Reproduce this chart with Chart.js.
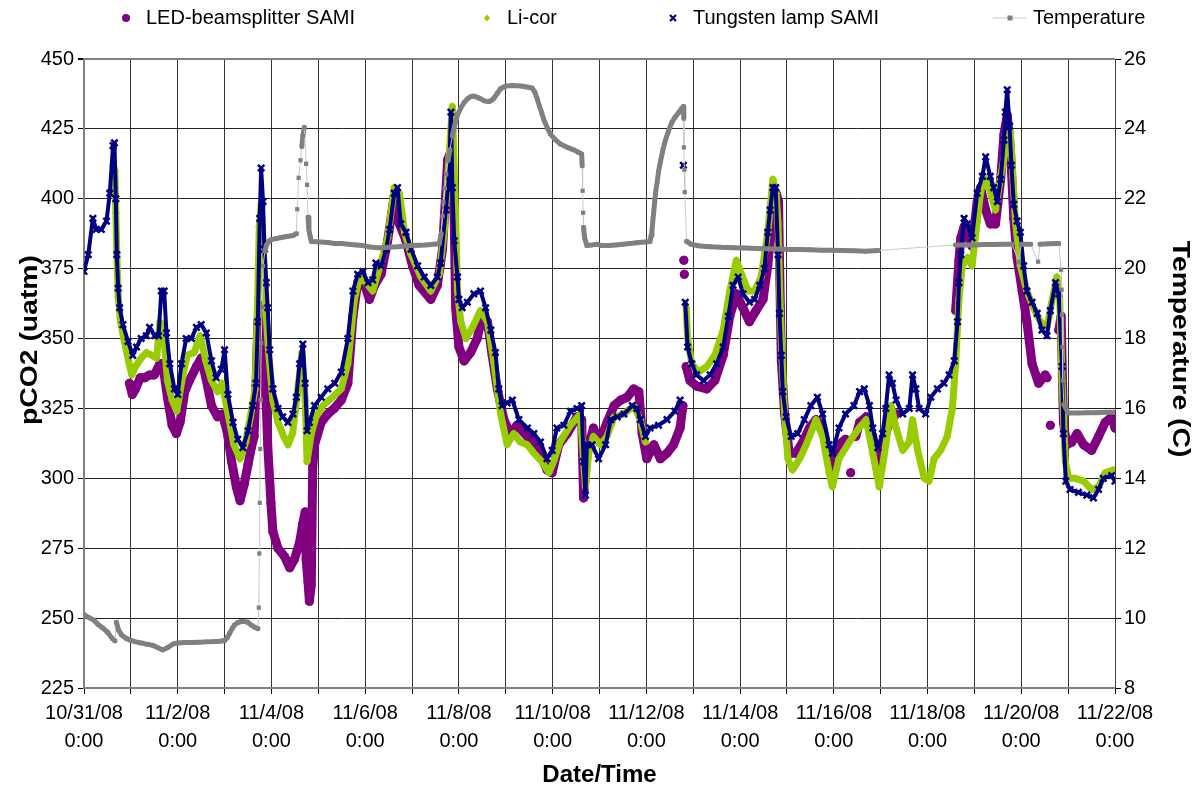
<!DOCTYPE html>
<html>
<head>
<meta charset="utf-8">
<title>pCO2 and temperature</title>
<script src="https://cdn.jsdelivr.net/npm/chart.js@4/dist/chart.umd.min.js"></script>
<style>
  body { margin: 0; background: #fff; }
  canvas { display: block; }
</style>
</head>
<body>
<canvas id="pco2Chart" width="1198" height="790"></canvas>
<script>
// days since 10/31/08 0:00
const tickDates = ["10/31/08", "11/2/08", "11/4/08", "11/6/08", "11/8/08", "11/10/08",
    "11/12/08", "11/14/08", "11/16/08", "11/18/08", "11/20/08", "11/22/08"];

const seriesNames = ["LED-beamsplitter SAMI", "Li-cor", "Tungsten lamp SAMI", "Temperature"];
const axisTitles = ["pCO2 (uatm)", "Temperature (C)", "Date/Time"];

const ledDay = [0.97, 1.03, 1.10, 1.20, 1.30, 1.40, 1.50, 1.62, 1.68, 1.78, 1.88, 1.97, 2.05, 2.15, 2.25, 2.40, 2.50, 2.60, 2.72, 2.85,
    2.95, 3.05, 3.15, 3.25, 3.33, 3.42, 3.50, 3.57, 3.63, 3.67, 3.71, 3.75, 3.82, 3.89, 3.92, 3.96, 3.99, 4.03, 4.14, 4.28,
    4.39, 4.49, 4.60, 4.67, 4.72, 4.74, 4.78, 4.81, 4.85, 4.88, 4.92, 5.06, 5.20, 5.34, 5.49, 5.63, 5.74, 5.84, 5.99, 6.09,
    6.20, 6.34, 6.48, 6.62, 6.73, 6.87, 7.01, 7.15, 7.40, 7.54, 7.65, 7.76, 7.83, 7.90, 7.93, 8.00, 8.11, 8.25, 8.39, 8.50,
    8.61, 8.71, 8.82, 8.96, 9.10, 9.24, 9.46, 9.67, 9.88, 9.99, 10.13, 10.31, 10.52, 10.62, 10.66, 10.73, 10.87, 11.00, 11.16, 11.31,
    11.45, 11.59, 11.73, 11.84, 11.91, 12.01, 12.16, 12.30, 12.44, 12.58, 12.72, 12.78, 12.79, 12.80, 12.80, 12.81, 12.82, 12.85, 12.93, 13.07,
    13.29, 13.46, 13.64, 13.78, 13.92, 14.06, 14.20, 14.34, 14.49, 14.59, 14.70, 14.77, 14.82, 14.84, 14.88, 14.95, 15.05, 15.19, 15.34, 15.48,
    15.62, 15.76, 15.90, 15.97, 16.11, 16.25, 16.30, 16.36, 16.40, 16.47, 16.55, 16.69, 16.83, 16.94, 17.04, 17.18, 17.33, 17.50, 18.60, 18.67,
    18.71, 18.78, 18.85, 18.95, 19.06, 19.13, 19.24, 19.34, 19.45, 19.56, 19.63, 19.70, 19.77, 19.84, 19.91, 20.02, 20.12, 20.23, 20.37, 20.51,
    20.55, 20.58, 20.62, 20.66, 20.80, 20.85, 20.90, 20.97, 21.08, 21.19, 21.33, 21.50, 21.65, 21.79, 21.93, 22.00];
const ledPco2 = [334, 330, 332, 336, 336, 337, 337, 341, 341, 329, 319, 316, 320, 331, 335, 340, 343, 336, 326, 322,
    323, 317, 306, 297, 292, 298, 305, 311, 315, 333, 356, 362, 340, 326, 312, 300, 291, 281, 275, 272,
    268, 271, 277, 284, 288, 271, 263, 256, 262, 304, 312, 320, 323, 325, 328, 334, 358, 370, 369, 364,
    369, 373, 385, 401, 391, 385, 376, 369, 364, 369, 382, 414, 417, 393, 361, 347, 342, 345, 350, 358,
    356, 344, 332, 321, 316, 319, 315, 312, 303, 302, 312, 316, 322, 321, 293, 309, 318, 313, 320, 326,
    328, 329, 332, 331, 316, 307, 312, 307, 309, 312, 318, 326, null, 378, null, 373, null, 340, 335, 333,
    332, 335, 344, 358, 366, 361, 356, 360, 364, 376, 396, 402, 399, 379, 342, 323, 309, 309, 313, 318,
    321, 318, 307, 303, 312, 314, null, 302, null, 315, 320, 322, 315, 302, 312, 320, 323, null, 360, 378,
    386, 390, 387, 383, 399, 404, 396, 391, 391, 407, 423, 430, 417, 393, 379, 367, 356, 341, 334, 337,
    336, null, 319, null, 353, 358, 320, 312, 313, 316, 312, 310, 315, 320, 322, 318];

const licorDay = [0.62, 0.66, 0.68, 0.70, 0.73, 0.78, 0.85, 0.95, 1.02, 1.10, 1.22, 1.33, 1.45, 1.55, 1.62, 1.70, 1.78, 1.88, 1.98, 2.10,
    2.20, 2.35, 2.48, 2.60, 2.72, 2.85, 2.95, 3.05, 3.20, 3.33, 3.45, 3.55, 3.65, 3.70, 3.74, 3.78, 3.82, 3.88, 3.94, 4.03,
    4.14, 4.26, 4.35, 4.45, 4.55, 4.65, 4.72, 4.76, 4.85, 4.95, 5.10, 5.30, 5.49, 5.63, 5.77, 5.88, 6.02, 6.16, 6.30, 6.48,
    6.62, 6.73, 6.84, 6.98, 7.19, 7.40, 7.58, 7.69, 7.79, 7.86, 7.93, 7.97, 8.04, 8.15, 8.29, 8.46, 8.61, 8.75, 8.89, 9.03,
    9.17, 9.31, 9.46, 9.60, 9.77, 9.92, 10.02, 10.16, 10.38, 10.59, 10.70, 10.77, 10.87, 11.02, 11.16, 11.31, 11.52, 11.73, 11.87, 11.98,
    12.40, 12.85, 12.88, 12.97, 13.11, 13.29, 13.46, 13.64, 13.78, 13.92, 14.03, 14.17, 14.31, 14.45, 14.59, 14.70, 14.77, 14.81, 14.84, 14.88,
    14.95, 15.02, 15.12, 15.27, 15.41, 15.62, 15.76, 15.90, 15.97, 16.11, 16.33, 16.54, 16.69, 16.83, 16.97, 17.11, 17.22, 17.33, 17.47, 17.61,
    17.68, 17.79, 17.93, 18.03, 18.14, 18.28, 18.42, 18.53, 18.60, 18.67, 18.74, 18.85, 18.95, 19.06, 19.13, 19.20, 19.31, 19.45, 19.56, 19.66,
    19.77, 19.82, 19.88, 19.98, 20.12, 20.26, 20.41, 20.55, 20.65, 20.76, 20.82, 20.87, 20.94, 21.01, 21.15, 21.33, 21.50, 21.65, 21.79, 21.96];
const licorPco2 = [412, 410, 395, 380, 365, 356, 350, 342, 337, 340, 343, 345, 344, 343, 356, 352, 335, 328, 324, 336,
    344, 345, 351, 342, 335, 331, 334, 325, 312, 307, 313, 322, 332, 360, 390, 398, 385, 360, 345, 328,
    320, 315, 312, 316, 330, 345, 328, 306, 316, 322, 326, 329, 332, 341, 364, 372, 370, 367, 375, 386,
    404, 402, 388, 380, 372, 367, 373, 389, 415, 433, 393, 367, 356, 350, 354, 360, 356, 341, 323, 312,
    316, 313, 312, 309, 306, 302, 306, 313, 319, 323, 297, 309, 315, 312, 315, 322, 323, 326, 321, 313,
    null, 361, 350, 341, 338, 340, 344, 353, 367, 378, 373, 367, 367, 372, 388, 407, 402, 391, 370, 350,
    323, 307, 303, 307, 312, 321, 315, 302, 297, 307, 313, 318, 321, 309, 297, 312, 326, 318, 310, 313,
    321, 310, 300, 299, 307, 310, 315, 325, 341, 364, 376, 379, 376, 392, 402, 408, 404, 396, 408, 417,
    424, 408, 391, 376, 367, 361, 356, 354, 363, 372, 364, 335, 306, 300, 300, 299, 296, 297, 302, 303];

const tungstenDay = [0.00, 0.09, 0.19, 0.26, 0.37, 0.48, 0.55, 0.62, 0.65, 0.68, 0.70, 0.73, 0.76, 0.83, 0.94, 1.04, 1.12, 1.22, 1.33, 1.40,
    1.51, 1.59, 1.65, 1.71, 1.76, 1.83, 1.93, 2.00, 2.08, 2.18, 2.29, 2.40, 2.50, 2.61, 2.72, 2.82, 2.93, 3.00, 3.07, 3.18,
    3.28, 3.39, 3.50, 3.60, 3.67, 3.71, 3.75, 3.78, 3.82, 3.85, 3.89, 3.92, 3.96, 4.03, 4.14, 4.24, 4.35, 4.46, 4.53, 4.60,
    4.67, 4.72, 4.76, 4.81, 4.92, 5.06, 5.20, 5.35, 5.49, 5.63, 5.74, 5.84, 5.95, 6.06, 6.16, 6.23, 6.34, 6.45, 6.52, 6.62,
    6.69, 6.76, 6.87, 6.98, 7.12, 7.26, 7.40, 7.54, 7.61, 7.72, 7.79, 7.83, 7.86, 7.90, 7.97, 8.00, 8.07, 8.18, 8.32, 8.46,
    8.57, 8.68, 8.78, 8.85, 8.92, 9.03, 9.14, 9.28, 9.46, 9.60, 9.74, 9.88, 9.99, 10.09, 10.24, 10.38, 10.52, 10.62, 10.66, 10.70,
    10.73, 10.84, 10.98, 11.13, 11.24, 11.38, 11.52, 11.70, 11.80, 11.87, 11.98, 12.08, 12.26, 12.44, 12.61, 12.72, 12.76, 12.79, 12.81, 12.83,
    12.88, 12.97, 13.07, 13.22, 13.36, 13.50, 13.64, 13.75, 13.85, 13.96, 14.06, 14.20, 14.31, 14.42, 14.52, 14.59, 14.64, 14.70, 14.76, 14.81,
    14.84, 14.88, 14.91, 14.98, 15.09, 15.23, 15.37, 15.51, 15.65, 15.76, 15.90, 15.97, 16.11, 16.25, 16.43, 16.55, 16.65, 16.76, 16.83, 16.94,
    17.04, 17.11, 17.18, 17.25, 17.33, 17.47, 17.61, 17.68, 17.75, 17.82, 17.96, 18.07, 18.21, 18.35, 18.46, 18.57, 18.64, 18.67, 18.71, 18.78,
    18.85, 18.95, 19.06, 19.17, 19.24, 19.34, 19.41, 19.49, 19.56, 19.63, 19.66, 19.70, 19.75, 19.79, 19.84, 19.91, 19.98, 20.05, 20.12, 20.23,
    20.34, 20.44, 20.55, 20.62, 20.73, 20.80, 20.87, 20.90, 20.95, 21.04, 21.22, 21.40, 21.54, 21.65, 21.75, 21.93, 22.00];
const tungstenPco2 = [374, 380, 393, 389, 389, 392, 402, 419, 420, 400, 380, 368, 361, 355, 349, 344, 347, 350, 351, 354,
    351, 351, 367, 367, 352, 341, 332, 330, 341, 350, 350, 354, 355, 352, 342, 336, 339, 346, 330, 320,
    314, 311, 317, 326, 334, 356, 393, 411, 399, 382, 370, 361, 346, 332, 325, 322, 320, 323, 329, 341,
    348, 334, 317, 320, 326, 329, 332, 334, 338, 350, 367, 373, 374, 370, 371, 377, 376, 382, 389, 402,
    404, 391, 388, 382, 376, 372, 369, 372, 377, 396, 408, 431, 404, 385, 372, 364, 361, 363, 366, 367,
    361, 353, 345, 332, 326, 327, 328, 321, 318, 316, 313, 307, 310, 318, 319, 324, 325, 326, 306, 294,
    312, 312, 307, 312, 321, 322, 323, 326, 325, 321, 315, 318, 319, 321, 324, 328, null, 412, null, 363,
    347, 341, 337, 335, 337, 341, 347, 358, 369, 372, 366, 363, 364, 369, 375, 388, 396, 404, 404, 380,
    359, 344, 331, 322, 315, 316, 321, 326, 329, 323, 312, 309, 318, 323, 326, 331, 332, 326, 318, 311,
    316, 325, 337, 334, 328, 323, 325, 337, 332, 325, 323, 329, 332, 334, 337, 342, 356, 370, 380, 393,
    391, 386, 402, 408, 415, 408, 404, 399, 407, 421, 431, 439, 426, 412, 398, 392, 388, 376, 367, 363,
    359, 353, 351, 360, 370, 366, 340, 316, 299, 296, 295, 294, 293, 296, 300, 301, 299];

const tempDay = [0.00, 0.10, 0.20, 0.30, 0.40, 0.50, 0.60, 0.66, 0.69, 0.74, 0.80, 0.90, 1.00, 1.10, 1.22, 1.35, 1.47, 1.58, 1.68, 1.79,
    1.90, 2.00, 2.15, 2.30, 2.45, 2.60, 2.79, 2.90, 3.00, 3.06, 3.11, 3.16, 3.21, 3.28, 3.35, 3.43, 3.50, 3.57, 3.64, 3.71,
    3.73, 3.74, 3.75, 3.76, 3.77, 3.78, 3.80, 3.82, 3.86, 3.89, 3.94, 3.99, 4.10, 4.21, 4.33, 4.46, 4.53, 4.55, 4.58, 4.62,
    4.65, 4.67, 4.70, 4.74, 4.76, 4.78, 4.80, 4.83, 4.85, 4.95, 5.06, 5.20, 5.35, 5.49, 5.65, 5.80, 5.95, 6.10, 6.25, 6.40,
    6.55, 6.70, 6.85, 7.00, 7.15, 7.30, 7.45, 7.58, 7.62, 7.65, 7.67, 7.70, 7.73, 7.77, 7.81, 7.86, 7.91, 7.97, 8.04, 8.11,
    8.18, 8.25, 8.32, 8.40, 8.46, 8.55, 8.64, 8.70, 8.75, 8.82, 8.89, 8.96, 9.03, 9.15, 9.31, 9.45, 9.56, 9.62, 9.67, 9.72,
    9.77, 9.81, 9.88, 9.95, 10.05, 10.16, 10.30, 10.45, 10.55, 10.62, 10.63, 10.64, 10.65, 10.66, 10.68, 10.73, 10.85, 10.94, 11.05, 11.20,
    11.35, 11.50, 11.65, 11.80, 11.95, 12.08, 12.10, 12.12, 12.14, 12.16, 12.18, 12.20, 12.23, 12.26, 12.30, 12.35, 12.40, 12.47, 12.54, 12.61,
    12.69, 12.75, 12.79, 12.80, 12.80, 12.81, 12.82, 12.86, 12.95, 13.14, 13.35, 13.60, 13.85, 14.10, 14.35, 14.56, 14.80, 15.05, 15.27, 15.50,
    15.75, 15.97, 16.20, 16.45, 16.68, 16.94, 18.60, 18.80, 19.00, 19.20, 19.40, 19.60, 19.80, 19.95, 20.00, 20.20, 20.36, 20.40, 20.60, 20.80,
    20.85, 20.86, 20.87, 20.88, 20.89, 20.91, 21.00, 21.20, 21.40, 21.60, 21.80, 22.00];
const tempC = [10.10, 10.02, 9.95, 9.82, 9.72, 9.60, 9.42, 9.35, 9.88, 9.65, 9.52, 9.42, 9.36, 9.32, 9.29, 9.25, 9.22, 9.15, 9.09, 9.16,
    9.26, 9.29, 9.30, 9.30, 9.31, 9.32, 9.33, 9.34, 9.36, 9.45, 9.57, 9.70, 9.80, 9.87, 9.90, 9.90, 9.88, 9.80, 9.74, 9.70,
    10.30, 11.85, 13.30, 14.84, 16.24, 17.87, 18.90, 20.08, 20.50, 20.66, 20.78, 20.83, 20.86, 20.89, 20.92, 20.95, 21.00, 21.70, 22.60, 23.10,
    23.50, 23.80, 24.04, 23.00, 22.40, 21.47, 21.10, 20.90, 20.78, 20.77, 20.76, 20.75, 20.72, 20.72, 20.70, 20.68, 20.66, 20.62, 20.60, 20.60,
    20.62, 20.63, 20.65, 20.66, 20.67, 20.68, 20.70, 20.71, 21.00, 21.50, 21.90, 22.30, 22.70, 23.10, 23.40, 23.80, 24.10, 24.40, 24.60, 24.75,
    24.86, 24.92, 24.94, 24.90, 24.86, 24.80, 24.78, 24.82, 24.88, 25.02, 25.15, 25.20, 25.23, 25.24, 25.23, 25.20, 25.17, 25.05, 24.86, 24.65,
    24.45, 24.27, 24.05, 23.86, 23.70, 23.57, 23.48, 23.40, 23.33, 23.28, 22.94, 22.23, 21.60, 21.18, 20.90, 20.66, 20.68, 20.70, 20.66, 20.66,
    20.68, 20.70, 20.72, 20.74, 20.76, 20.78, 20.95, 21.10, 21.40, 21.66, 21.95, 22.20, 22.48, 22.78, 23.06, 23.38, 23.65, 23.93, 24.18, 24.33,
    24.47, 24.58, 24.64, 24.30, 23.47, 22.83, 22.19, 20.78, 20.70, 20.65, 20.63, 20.61, 20.60, 20.59, 20.58, 20.57, 20.56, 20.55, 20.55, 20.54,
    20.53, 20.53, 20.52, 20.51, 20.50, 20.52, 20.68, 20.68, 20.68, 20.69, 20.69, 20.70, 20.70, 20.20, 20.70, 20.70, 20.20, 20.70, 20.71, 20.72,
    19.97, 19.40, 18.68, 17.76, 16.80, 16.11, 15.87, 15.87, 15.88, 15.88, 15.89, 15.89];

const LED_COLOR = "#800080";
const LICOR_COLOR = "#99CC00";
const TUNGSTEN_COLOR = "#000080";
const TEMP_COLOR = "#808080";
const TEMP_THIN_COLOR = "#c8c8c8";
const FONT = "'Liberation Sans', Arial, sans-serif";

const toPoints = (days, values) => days.map((d, i) => ({x: d, y: values[i]}));

// long jumps between readings are drawn thin, like the sparse markers in the original
const isJump = c => Math.hypot(c.p1.x - c.p0.x, c.p1.y - c.p0.y) > 13;

// legend along the top and the two side titles
const chartText = {
    id: "chartText",
    afterDraw(chart) {
        const ctx = chart.ctx;
        const sets = chart.data.datasets;
        const xs = [126, 487, 673, 1010];
        const y = 18;
        ctx.save();
        ctx.font = "20px " + FONT;
        ctx.textBaseline = "middle";
        sets.forEach((ds, i) => {
            const x = xs[i];
            ctx.fillStyle = ds.pointBackgroundColor;
            ctx.strokeStyle = ds.pointBorderColor;
            if (i === 0) {
                ctx.beginPath();
                ctx.arc(x, y, 4, 0, Math.PI * 2);
                ctx.fill();
            } else if (i === 1) {
                ctx.beginPath();
                ctx.moveTo(x, y - 3.5); ctx.lineTo(x + 3, y); ctx.lineTo(x, y + 3.5); ctx.lineTo(x - 3, y);
                ctx.fill();
            } else if (i === 2) {
                ctx.lineWidth = 2.2;
                ctx.beginPath();
                ctx.moveTo(x - 3, y - 3); ctx.lineTo(x + 3, y + 3);
                ctx.moveTo(x + 3, y - 3); ctx.lineTo(x - 3, y + 3);
                ctx.stroke();
            } else {
                ctx.strokeStyle = TEMP_THIN_COLOR;
                ctx.lineWidth = 1;
                ctx.beginPath();
                ctx.moveTo(x - 17, y); ctx.lineTo(x + 17, y);
                ctx.stroke();
                ctx.fillStyle = TEMP_COLOR;
                ctx.fillRect(x - 2.5, y - 2.5, 5, 5);
            }
            ctx.fillStyle = "#000";
            ctx.fillText(ds.label, x + (i === 3 ? 23 : 20), y);
        });

        // rotated titles, stretched along the text like the original
        ctx.font = "bold 24px " + FONT;
        ctx.textAlign = "center";
        ctx.fillStyle = "#000";
        ctx.save();
        ctx.translate(30, 340);
        ctx.rotate(-Math.PI / 2);
        ctx.scale(1.18, 1);
        ctx.fillText(axisTitles[0], 0, 0);
        ctx.restore();
        ctx.save();
        ctx.translate(1180, 349);
        ctx.rotate(Math.PI / 2);
        ctx.scale(1.18, 1);
        ctx.fillText(axisTitles[1], 0, 0);
        ctx.restore();
        ctx.restore();
    }
};

const inputData = {
    datasets: [
        {
            label: seriesNames[0],
            data: toPoints(ledDay, ledPco2),
            yAxisID: "y",
            order: 4,
            showLine: true,
            borderColor: LED_COLOR,
            borderWidth: 9,
            borderJoinStyle: "round",
            borderCapStyle: "round",
            pointStyle: "circle",
            pointRadius: 4.5,
            pointBackgroundColor: LED_COLOR,
            pointBorderColor: LED_COLOR,
            pointBorderWidth: 0
        },
        {
            label: seriesNames[1],
            data: toPoints(licorDay, licorPco2),
            yAxisID: "y",
            order: 3,
            showLine: true,
            borderColor: LICOR_COLOR,
            borderWidth: 7,
            borderJoinStyle: "round",
            borderCapStyle: "round",
            pointStyle: "rectRot",
            pointRadius: 4,
            pointBackgroundColor: LICOR_COLOR,
            pointBorderColor: LICOR_COLOR,
            pointBorderWidth: 0
        },
        {
            label: seriesNames[2],
            data: toPoints(tungstenDay, tungstenPco2),
            yAxisID: "y",
            order: 2,
            showLine: true,
            borderColor: TUNGSTEN_COLOR,
            borderWidth: 4,
            borderJoinStyle: "round",
            borderCapStyle: "round",
            pointStyle: "crossRot",
            pointRadius: 4.5,
            pointBackgroundColor: TUNGSTEN_COLOR,
            pointBorderColor: TUNGSTEN_COLOR,
            pointBorderWidth: 2.5
        },
        {
            label: seriesNames[3],
            data: toPoints(tempDay, tempC),
            yAxisID: "y2",
            order: 1,
            showLine: true,
            borderColor: TEMP_COLOR,
            borderWidth: 5,
            borderJoinStyle: "round",
            borderCapStyle: "round",
            segment: {
                borderWidth: c => isJump(c) ? 1 : 5,
                borderColor: c => isJump(c) ? TEMP_THIN_COLOR : TEMP_COLOR
            },
            pointStyle: "rect",
            pointRadius: 3,
            pointBackgroundColor: TEMP_COLOR,
            pointBorderColor: TEMP_COLOR,
            pointBorderWidth: 0
        }
    ]
};

const tickFont = {family: FONT, size: 20, lineHeight: 1.4};
const titleFont = {family: FONT, size: 24, weight: "bold"};

const options = {
    responsive: false,
    animation: false,
    events: [],
    layout: {padding: {top: 59, left: 0, right: 0, bottom: 0}},
    plugins: {
        legend: {display: false},
        tooltip: {enabled: false}
    },
    scales: {
        x: {
            type: "linear",
            min: 0,
            max: 22,
            afterFit: s => { s.height = 102; },
            ticks: {
                stepSize: 1,
                autoSkip: false,
                maxRotation: 0,
                padding: 5,
                color: "#000",
                font: tickFont,
                callback: v => v % 2 === 0 ? [tickDates[v / 2], "0:00"] : ""
            },
            grid: {color: "#333", lineWidth: 1, tickLength: 6, tickColor: "#000"},
            border: {color: "#808080", width: 2},
            title: {display: true, text: axisTitles[2], color: "#000", font: titleFont, padding: {top: 0, bottom: 0}}
        },
        y: {
            position: "left",
            min: 225,
            max: 450,
            afterFit: s => { s.width = 84; },
            ticks: {stepSize: 25, padding: 4, color: "#000", font: tickFont},
            grid: {
                color: c => c.tick && c.tick.value === 450 ? "#808080" : "#222",
                lineWidth: c => c.tick && c.tick.value === 450 ? 2 : 1,
                tickLength: 6,
                tickColor: "#000"
            },
            border: {color: "#808080", width: 2}
        },
        y2: {
            position: "right",
            min: 8,
            max: 26,
            afterFit: s => { s.width = 83; },
            ticks: {stepSize: 2, padding: 3, color: "#000", font: tickFont},
            grid: {drawOnChartArea: false, tickLength: 6, tickColor: "#000"},
            border: {color: "#404040", width: 1}
        }
    }
};

const ctx = document.getElementById("pco2Chart").getContext("2d");
const pco2Chart = new Chart(ctx, {
    type: "scatter",
    data: inputData,
    options: options,
    plugins: [chartText]
});
</script>
</body>
</html>
